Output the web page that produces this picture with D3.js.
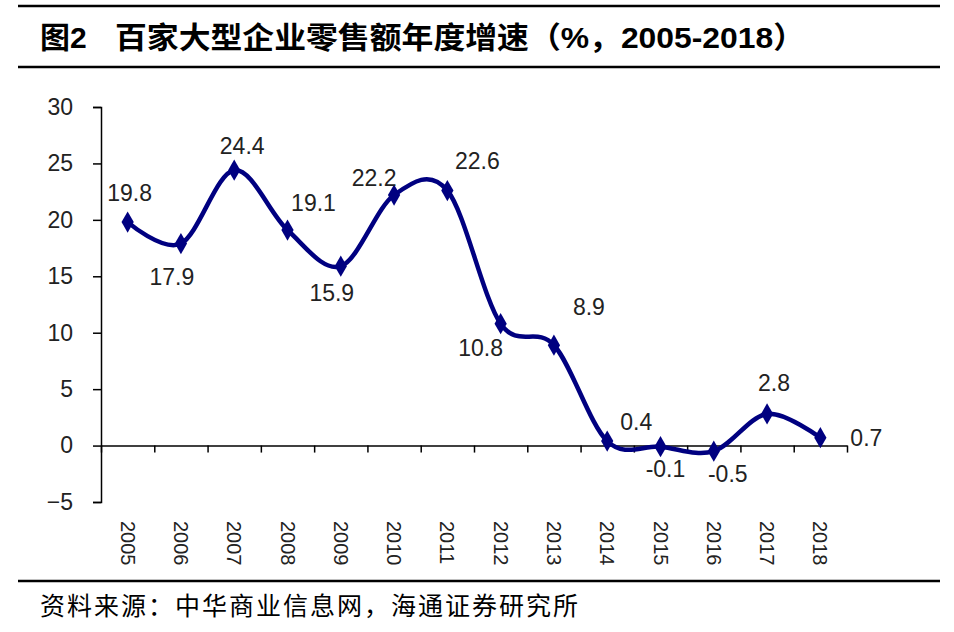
<!DOCTYPE html>
<html>
<head>
<meta charset="utf-8">
<script src="https://cdn.jsdelivr.net/npm/d3@7"></script>
<style>
  body { margin: 0; background: #fff; }
  svg { display: block; }
</style>
</head>
<body>
<svg id="chart" width="954" height="632"></svg>
<script>
const years = ["2005", "2006", "2007", "2008", "2009", "2010", "2011",
  "2012", "2013", "2014", "2015", "2016", "2017", "2018"];
const growth = [19.8, 17.9, 24.4, 19.1, 15.9, 22.2, 22.6, 10.8, 8.9, 0.4, -0.1, -0.5, 2.8, 0.7];
const yTicks = [-5, 0, 5, 10, 15, 20, 25, 30];
// where each data label sits relative to its point (dx, dy)
const labelOffset = [[2, -29], [-9, 33], [8, -24], [26, -27], [-9, 27], [-20, -17], [30, -30],
  [-20, 24], [35, -38], [29, -19], [5, 22], [14, 23], [7, -31], [46, 0]];

const latin = "'Liberation Sans', Arial, sans-serif";
const cjk = "'Liberation Sans', 'Noto Sans CJK SC', sans-serif";
const svg = d3.select("#chart");

const x = d3.scaleBand(years, [101, 847]);
const xEdge = d3.scaleLinear([0, years.length], [101, 847]);
const y = d3.scaleLinear([-5, 30], [502, 107]);

// title and rules
[6, 67, 581].forEach((ry) => {
  svg.append("line").attr("x1", 18).attr("x2", 940).attr("y1", ry).attr("y2", ry)
    .attr("stroke", "black").attr("stroke-width", 2.5);
});

const title = svg.append("text")
  .attr("y", 48)
  .attr("font-family", cjk)
  .attr("font-weight", "bold")
  .attr("font-size", 30);
title.append("tspan").attr("x", 40).text("图2");
title.append("tspan").attr("x", 115)
  .attr("textLength", 690).attr("lengthAdjust", "spacingAndGlyphs")
  .text("百家大型企业零售额年度增速（%，2005-2018）");

svg.append("text")
  .attr("x", 40)
  .attr("y", 615)
  .attr("font-family", "'Noto Sans CJK SC', sans-serif")
  .attr("font-size", 25)
  .attr("textLength", 538).attr("lengthAdjust", "spacing")
  .text("资料来源：中华商业信息网，海通证券研究所");

// axes
const yAxis = d3.axisLeft(y).tickValues(yTicks).tickSize(8).tickSizeOuter(8).tickPadding(20);
const gy = svg.append("g").attr("transform", "translate(101,0)").call(yAxis);
gy.selectAll("text").attr("font-family", latin).attr("font-size", 23).attr("fill", "#222");
gy.selectAll("line, path").attr("stroke", "black").attr("stroke-width", 1.5);

const xAxis = d3.axisBottom(xEdge).tickValues(d3.range(0, years.length + 1))
  .tickFormat("").tickSize(7).tickSizeOuter(0);
const gx = svg.append("g").attr("transform", `translate(0,${y(0)})`).call(xAxis);
gx.selectAll("line, path").attr("stroke", "black").attr("stroke-width", 1.5);

svg.append("g")
  .selectAll("text")
  .data(years)
  .join("text")
  .attr("transform", (d) => `translate(${x(d) + x.bandwidth() / 2},521) rotate(90)`)
  .attr("dy", "0.35em")
  .attr("font-family", latin)
  .attr("font-size", 20)
  .attr("fill", "#222")
  .text((d) => d);

// line
const pts = years.map((d, i) => [x(d) + x.bandwidth() / 2, y(growth[i])]);
const line = d3.line().curve(d3.curveCardinal.tension(0));
svg.append("path")
  .attr("d", line(pts))
  .attr("fill", "none")
  .attr("stroke", "#000080")
  .attr("stroke-width", 4.5);

svg.append("g")
  .selectAll("path")
  .data(pts)
  .join("path")
  .attr("transform", (p) => `translate(${p[0]},${p[1]})`)
  .attr("d", d3.symbol(d3.symbolDiamond, 130))
  .attr("fill", "#000080");

svg.append("g")
  .selectAll("text")
  .data(growth)
  .join("text")
  .attr("x", (v, i) => pts[i][0] + labelOffset[i][0])
  .attr("y", (v, i) => pts[i][1] + labelOffset[i][1])
  .attr("dy", "0.35em")
  .attr("text-anchor", "middle")
  .attr("font-family", latin)
  .attr("font-size", 23)
  .attr("fill", "#222")
  .text((v) => v.toFixed(1));
</script>
</body>
</html>
